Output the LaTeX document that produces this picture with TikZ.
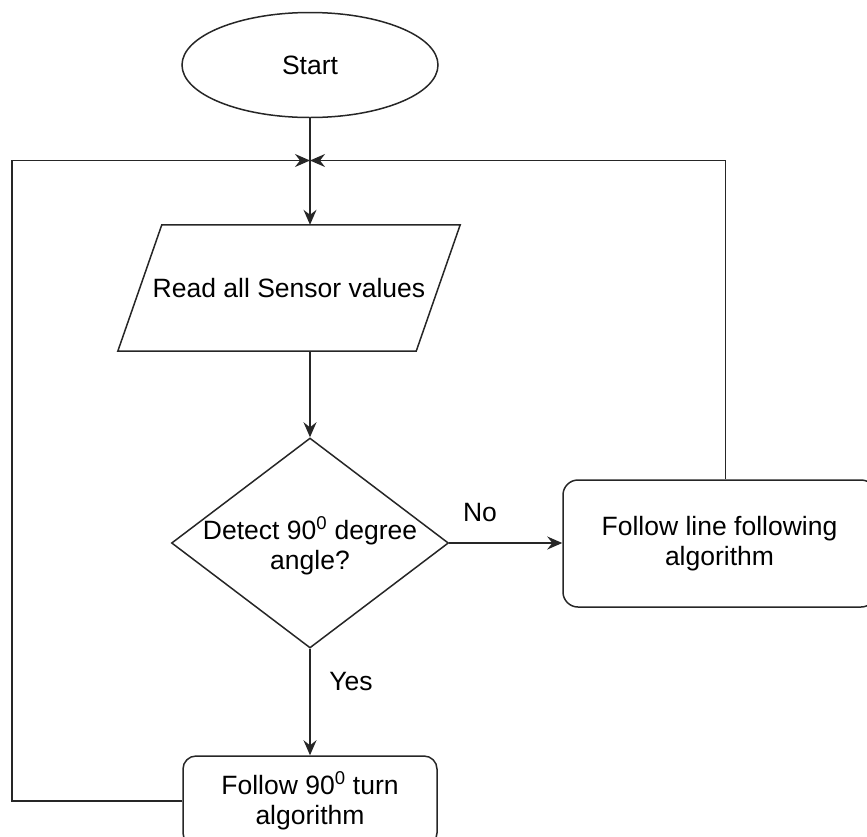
\documentclass[tikz,border=0pt]{standalone}
\usepackage{fontspec}
\setmainfont{Liberation Sans}
\usetikzlibrary{shapes.geometric,arrows.meta,calc}

\begin{document}
\begin{tikzpicture}[x=1pt,y=-1pt,
  every node/.style={font=\fontsize{26.5}{30.5}\selectfont, text=black},
  flow/.style={draw=black!85, line width=1.5pt},
  arr/.style={-{Stealth[length=15pt,width=13pt,inset=5pt]}},
  shapebox/.style={draw=black!85, line width=1.5pt, inner sep=0pt},
  lbl/.style={inner sep=0pt},
  sup/.style={}
]
\useasboundingbox (0,0) rectangle (867,836);

% terminal
\node[shapebox, ellipse, minimum width=256pt, minimum height=105pt] (start) at (310,65) {Start};

% input / output block (parallelogram drawn around the node)
\node[inner sep=0pt, minimum width=342pt, minimum height=126pt] (read) at (289,288) {Read all Sensor values};
\draw[flow] ($(read.north west)+(44,0)$) -- (read.north east)
  -- ($(read.south east)+(-44,0)$) -- (read.south west) -- cycle;

% decision
\node[shapebox, diamond, minimum width=277pt, minimum height=210pt] (detect) at (310,543) {};
\node[lbl, align=center] (detecttext) at (310,546) {Detect 90\textsuperscript{0} degree\\angle?};

% process blocks
\node[shapebox, rounded corners=15pt, minimum width=313pt, minimum height=127pt, align=center]
  (linefollow) at (719.5,543.5) {Follow line following\\algorithm};
\node[shapebox, rounded corners=13pt, minimum width=254pt, minimum height=90pt, align=center]
  (turn) at (310,801) {Follow 90\textsuperscript{0} turn\\algorithm};

% junction where both loops return
\coordinate (merge) at (310,160.5);
\coordinate (leftrail) at (12,160.5);

% connectors
\draw[flow, arr] (start.south) -- (start.south |- read.north);
\draw[flow, arr] (read.south -| detect.north) -- (detect.north);
\draw[flow, arr] (detect.east) -- (linefollow.west |- detect.east);
\draw[flow, arr] (detect.south) -- (turn.north);
\draw[flow, arr] (turn.west) -| (leftrail) -- (merge);
\draw[flow, arr] ([xshift=6pt]linefollow.north) |- (merge);

% branch labels
\node[lbl] (nolabel) at (480,513) {No};
\node[lbl] (yeslabel) at (351,682) {Yes};
\end{tikzpicture}
\end{document}
